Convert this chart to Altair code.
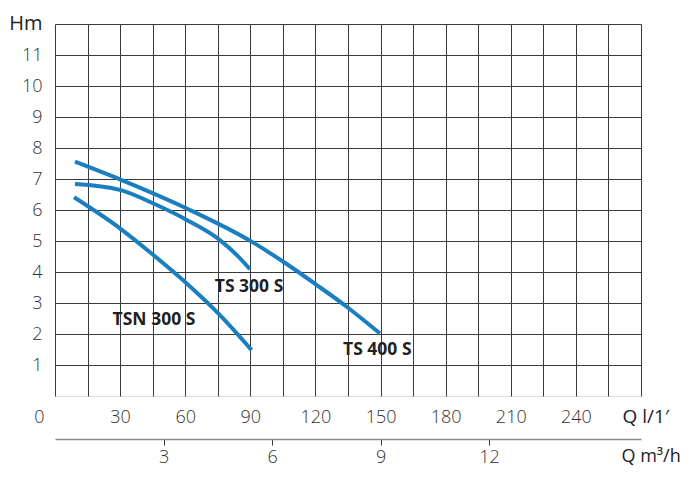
import altair as alt
import pandas as pd

# Flow Q (l/min) and head H (m)
q_ts400 = [9.2, 29.9, 60.7, 90.6, 105.2, 120.6, 134.4, 149.7]
h_ts400 = [7.56, 6.99, 6.05, 4.98, 4.33, 3.58, 2.88, 2.02]
q_ts300 = [9.2, 29.9, 46.9, 60.7, 76.0, 83.7, 89.8]
h_ts300 = [6.84, 6.65, 6.16, 5.68, 5.03, 4.55, 4.09]
q_tsn300 = [8.8, 29.9, 45.3, 60.7, 76.0, 90.6]
h_tsn300 = [6.41, 5.41, 4.55, 3.63, 2.61, 1.48]

label_names = ["TS 300 S", "TSN 300 S", "TS 400 S"]
label_q = [89.4, 45.6, 148.5]
label_h = [3.53, 2.45, 1.48]

x_ticks = list(range(0, 271, 15))
y_ticks = list(range(1, 13))
m3_ticks = [3, 6, 9, 12]

rows = []
for name, qs, hs in [("TS 400 S", q_ts400, h_ts400),
                     ("TS 300 S", q_ts300, h_ts300),
                     ("TSN 300 S", q_tsn300, h_tsn300)]:
    for q, h in zip(qs, hs):
        rows.append({"series": name, "Q": q, "H": h})
curves = pd.DataFrame(rows)
labels = pd.DataFrame({"name": label_names, "Q": label_q, "H": label_h})

BLUE = "#1a7fc1"
FONT = "Open Sans"

x_main = alt.X(
    "Q:Q",
    scale=alt.Scale(domain=[0, 270], nice=False, zero=True),
    axis=alt.Axis(
        values=x_ticks, grid=True, gridColor="#3a3a3a", gridWidth=1,
        ticks=False, tickSize=0, domain=False,
        labelExpr="datum.value % 30 == 0 && datum.value < 270 ? datum.label : ''",
        labelAlign={"condition": {"test": "datum.value == 0", "value": "right"}, "value": "center"},
        labelOffset={"condition": {"test": "datum.value == 0", "value": -11}, "value": 0},
        labelFlush=False, labelOverlap=False, labelBound=False,
        labelPadding=12, labelFont=FONT, labelFontSize=18, labelFontWeight=300,
        labelColor="#333333",
        title="Q l/1\u2032", titleFont=FONT, titleFontSize=19, titleFontWeight="normal",
        titleColor="#222222", titleAlign="left", titleBaseline="middle",
        titleX=567, titleY=20,
    ),
)
y_main = alt.Y(
    "H:Q",
    scale=alt.Scale(domain=[0, 12], nice=False),
    axis=alt.Axis(
        values=y_ticks, grid=True, gridColor="#3a3a3a", gridWidth=1,
        ticks=False, tickSize=0, domain=False,
        labelExpr="datum.value < 12 ? datum.label : ''",
        labelPadding=13, labelFont=FONT, labelFontSize=18, labelFontWeight=300,
        labelColor="#333333",
        title="Hm", titleFont=FONT, titleFontSize=20, titleFontWeight="normal",
        titleColor="#222222", titleAngle=0, titleAlign="right", titleBaseline="middle",
        titleX=-13, titleY=-1,
    ),
)

lines = alt.Chart(curves).mark_line(
    color=BLUE, strokeWidth=4, interpolate="monotone"
).encode(x=x_main, y=y_main, detail="series:N")

texts = alt.Chart(labels).mark_text(
    font=FONT, fontSize=17.5, fontWeight="bold", color="#231f20",
    align="center", baseline="middle"
).encode(x=x_main, y=y_main, text="name:N")

main = alt.layer(lines, texts)

sec = alt.Chart(curves).transform_calculate(
    m3="datum.Q * 0.06"
).mark_line(opacity=0).encode(
    x=alt.X(
        "m3:Q",
        scale=alt.Scale(domain=[0, 16.2], nice=False, zero=True),
        axis=alt.Axis(
            orient="bottom", offset=43, values=m3_ticks, grid=False,
            domain=True, domainColor="#8a8a8a", domainWidth=1.5,
            ticks=True, tickColor="#333333", tickSize=6, tickWidth=1,
            labelPadding=3, labelFont=FONT, labelFontSize=18, labelFontWeight=300,
            labelColor="#333333", labelFlush=False, labelOverlap=False,
            title="Q m\u00b3/h", titleFont=FONT, titleFontSize=18, titleFontWeight="normal",
            titleColor="#222222", titleAlign="left", titleBaseline="middle",
            titleX=566, titleY=17,
        ),
    ),
    y=y_main,
    detail="series:N",
)

chart = alt.layer(main, sec).resolve_scale(x="independent").properties(
    width=586, height=372,
    autosize=alt.AutoSizeParams(type="none"),
    padding={"left": 47, "top": 16, "right": 41, "bottom": 73},
).configure_view(
    stroke="#2a2a2a", strokeWidth=1.5
).configure(background="white")

chart.save("out.html", embed_options={"renderer": "svg", "actions": False})
